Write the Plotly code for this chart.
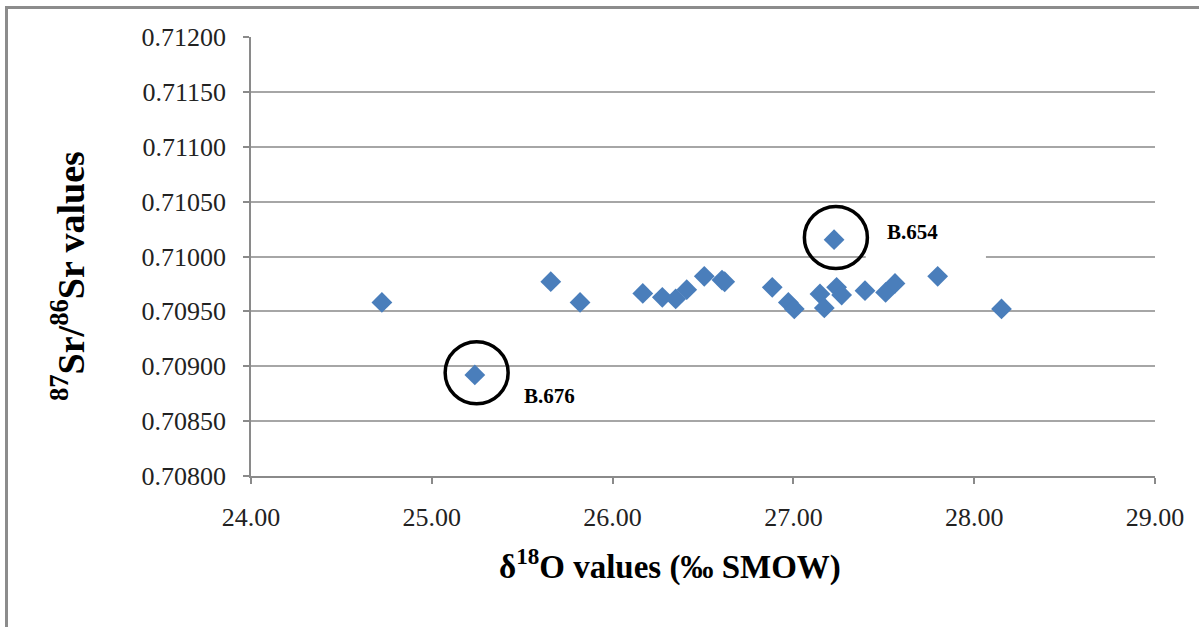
import plotly.graph_objects as go

# delta-18O (per mil SMOW) and 87Sr/86Sr for each sample
d18o = [24.724, 25.658, 25.820, 26.167, 26.275, 26.349, 26.410, 26.507,
        26.605, 26.620, 26.883, 26.972, 27.005, 27.147, 27.171, 27.239,
        27.267, 27.396, 27.510, 27.562, 27.798, 28.151, 27.225, 25.238]
sr_ratio = [0.709582, 0.709771, 0.709582, 0.709664, 0.709628, 0.709613,
            0.709698, 0.709819, 0.709785, 0.709770, 0.709719, 0.709582,
            0.709522, 0.709659, 0.709531, 0.709719, 0.709649, 0.709689,
            0.709673, 0.709755, 0.709819, 0.709522, 0.710153, 0.708921]

# highlighted samples (label, x, y)
flag_labels = ["B.654", "B.676"]
flag_x = [27.225, 25.238]
flag_y = [0.710153, 0.708921]

y_ticks = [0.708, 0.7085, 0.709, 0.7095, 0.710, 0.7105, 0.711, 0.7115, 0.712]
x_ticks = [24, 25, 26, 27, 28, 29]

W, H = 1199, 627
ML, MR, MT, MB = 251, 44, 37, 151
PW, PH = W - ML - MR, H - MT - MB

def px_x(p):
    return (p - ML) / PW

def px_y(p):
    return (H - MB - p) / PH

AXIS = "#8a8a8a"
GRID = "#a6a6a6"
BLUE = "#4a7ebb"
SERIF = '"Liberation Serif", "Times New Roman", Times, serif'

fig = go.Figure()
fig.add_trace(go.Scatter(
    x=d18o, y=sr_ratio, mode="markers",
    marker=dict(symbol="diamond", size=16, color=BLUE, line=dict(width=0)),
    hoverinfo="x+y", showlegend=False,
))

shapes = []
# outer chart frame
shapes.append(dict(type="rect", xref="paper", yref="paper",
                   x0=px_x(6.5), x1=px_x(1230), y0=px_y(7.5), y1=px_y(700),
                   line=dict(color="#8c8c8c", width=3), fillcolor="rgba(0,0,0,0)",
                   layer="below"))
# white label box beside B.654
shapes.append(dict(type="rect", xref="x", yref="y",
                   x0=27.40, x1=28.065, y0=0.70997, y1=0.71035,
                   line=dict(width=0), fillcolor="white", layer="above"))

# circles around flagged samples (radius ~31 px)
rx = 31.5 / (PW / 5.0)
ry = 31.0 / (PH / 0.004)
for fx, fy in zip(flag_x, flag_y):
    cx, cy = fx + 0.01, fy + 0.00002
    shapes.append(dict(type="circle", xref="x", yref="y",
                       x0=cx - rx, x1=cx + rx, y0=cy - ry, y1=cy + ry,
                       line=dict(color="black", width=3.5), layer="above"))

annotations = []
label_shift = {"B.654": (78, 8), "B.676": (75, -21)}
for lab, fx, fy in zip(flag_labels, flag_x, flag_y):
    dx, dy = label_shift[lab]
    annotations.append(dict(x=fx, y=fy, xref="x", yref="y", text=f"<b>{lab}</b>",
                            showarrow=False, xshift=dx, yshift=dy,
                            xanchor="center", yanchor="middle",
                            font=dict(family=SERIF, size=21, color="black")))

annotations.append(dict(x=px_x(670), y=px_y(564), xref="paper", yref="paper",
                        xanchor="center", yanchor="middle",
                        text="<b>δ<sup>18</sup>O values (‰ SMOW)</b>",
                        showarrow=False, font=dict(family=SERIF, size=33, color="black")))
annotations.append(dict(x=px_x(68), y=px_y(276), xref="paper", yref="paper",
                        xanchor="center", yanchor="middle",
                        text="<b><sup>87</sup>Sr/<sup>86</sup>Sr values</b>", textangle=-90,
                        showarrow=False, font=dict(family=SERIF, size=38, color="black")))

fig.update_layout(
    width=W, height=H,
    margin=dict(l=ML, r=MR, t=MT, b=MB, pad=0),
    paper_bgcolor="white", plot_bgcolor="white",
    shapes=shapes, annotations=annotations,
    font=dict(family=SERIF, color="#222222"),
)
fig.update_xaxes(
    range=[24, 29], tickvals=x_ticks, ticktext=[f"{v:.2f}" for v in x_ticks],
    showgrid=False, zeroline=False, showline=True, linecolor=AXIS, linewidth=1.5,
    ticks="outside", ticklen=6, tickcolor=AXIS, tickwidth=1.5,
    ticklabelstandoff=11,
    tickfont=dict(family=SERIF, size=26, color="#222222"),
)
fig.update_yaxes(
    range=[0.708, 0.712], tickvals=y_ticks, ticktext=[f"{v:.5f}" for v in y_ticks],
    showgrid=True, gridcolor=GRID, gridwidth=1.5, zeroline=False,
    showline=True, linecolor=AXIS, linewidth=1.5,
    ticks="outside", ticklen=6, tickcolor=AXIS, tickwidth=1.5,
    ticklabelstandoff=12,
    tickfont=dict(family=SERIF, size=26, color="#222222"),
)

fig.write_html("out.html")
